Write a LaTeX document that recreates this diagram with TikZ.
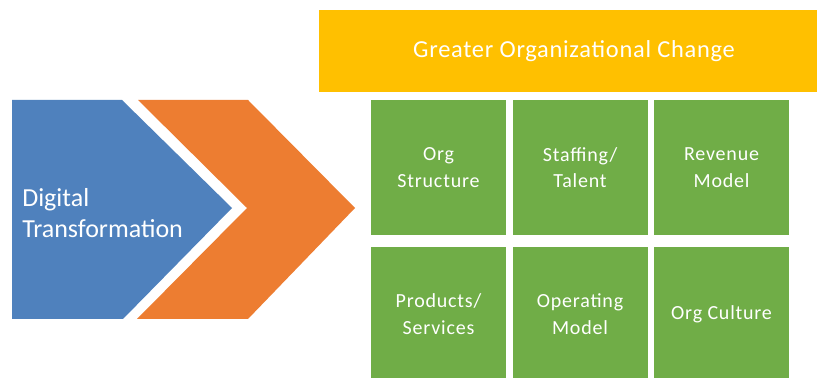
\documentclass[tikz,border=0pt]{standalone}
\usepackage{fontspec}
\setmainfont{Carlito}
\usetikzlibrary{positioning}
\definecolor{dtblue}{HTML}{4F81BD}
\definecolor{dtorange}{HTML}{ED7D31}
\definecolor{dtyellow}{HTML}{FFC000}
\definecolor{dtgreen}{HTML}{70AD47}
\tikzset{
  greenbox/.style={fill=dtgreen,text=white,align=center,minimum width=101.25pt,
    minimum height=101.25pt,inner sep=0pt,
    font=\fontsize{15}{20}\selectfont\addfontfeature{LetterSpace=4}},
}
\begin{document}
\begin{tikzpicture}[x=0.75pt,y=0.75pt,node distance=4.5pt and 4.5pt]
      \useasboundingbox (0,0) rectangle (817,378);
      \fill[white] (0,0) rectangle (817,378);
      % arrows on the left
      \fill[dtblue] (12,278) -- (122,278) -- (232,170) -- (123,59) -- (12,59) -- cycle;
      \fill[dtorange] (138,278) -- (248,278) -- (355,170) -- (248,59) -- (137,59) -- (247,170) -- cycle;
      \node (DT) [anchor=west,align=left,text=white,inner sep=0pt,
        font=\fontsize{19.5}{23.5}\selectfont] at (22,165) {Digital\\Transformation};
      % top bar
      \fill[dtyellow] (319,286) rectangle (820,368);
      \node (GOC) [text=white,font=\fontsize{18.3}{20}\selectfont\addfontfeature{LetterSpace=3}]
        at (574,327) {Greater Organizational Change};
      % grid of changes
      \node (OS) [greenbox] at (438.5,210.5) {Org\\Structure};
      \node (ST) [greenbox,right=of OS] {Staffing/\\Talent};
      \node (RM) [greenbox,right=of ST] {Revenue\\Model};
      \node (PS) [greenbox,below=8.25pt of OS] {Products/\\Services};
      \node (OM) [greenbox,below=8.25pt of ST] {Operating\\Model};
      \node (OC) [greenbox,below=8.25pt of RM] {Org Culture};
    \end{tikzpicture}
\end{document}
